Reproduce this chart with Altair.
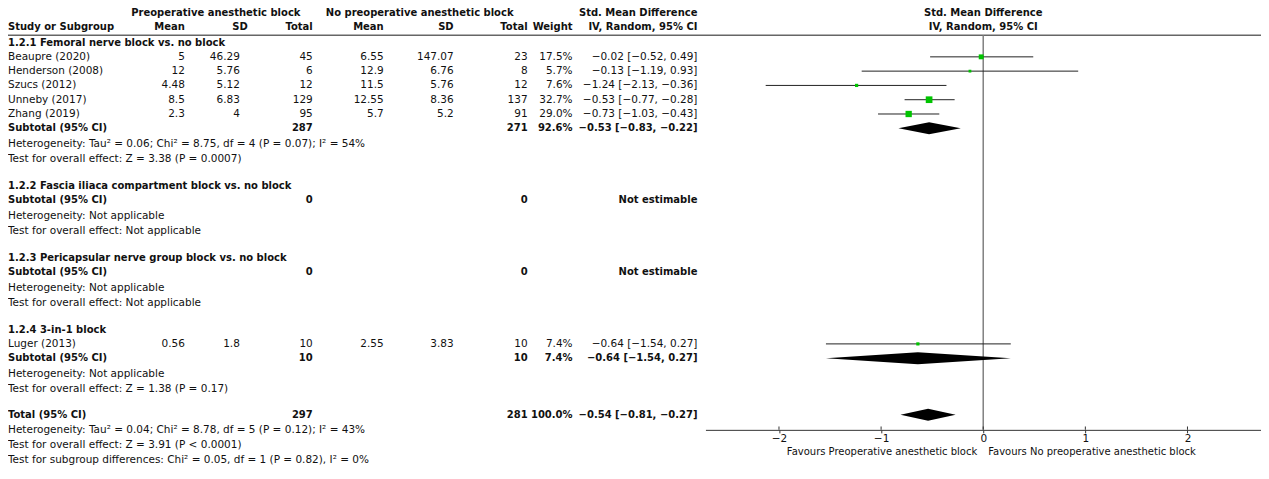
import pandas as pd
import altair as alt

# ---- values ----
study = ["Beaupre (2020)", "Henderson (2008)", "Szucs (2012)", "Unneby (2017)", "Zhang (2019)", "Luger (2013)"]
study_group = ["1.2.1", "1.2.1", "1.2.1", "1.2.1", "1.2.1", "1.2.4"]
exp_mean = [5, 12, 4.48, 8.5, 2.3, 0.56]
exp_sd = [46.29, 5.76, 5.12, 6.83, 4, 1.8]
exp_n = [45, 6, 12, 129, 95, 10]
ctl_mean = [6.55, 12.9, 11.5, 12.55, 5.7, 2.55]
ctl_sd = [147.07, 6.76, 5.76, 8.36, 5.2, 3.83]
ctl_n = [23, 8, 12, 137, 91, 10]
weight = [17.5, 5.7, 7.6, 32.7, 29.0, 7.4]
smd = [-0.02, -0.13, -1.24, -0.53, -0.73, -0.64]
ci_lo = [-0.52, -1.19, -2.13, -0.77, -1.03, -1.54]
ci_hi = [0.49, 0.93, -0.36, -0.28, -0.43, 0.27]

group_id = ["1.2.1", "1.2.2", "1.2.3", "1.2.4"]
group_title = [
    "1.2.1 Femoral nerve block vs. no block",
    "1.2.2 Fascia iliaca compartment block vs. no block",
    "1.2.3 Pericapsular nerve group block vs. no block",
    "1.2.4 3-in-1 block",
]
sub_exp_n = [287, 0, 0, 10]
sub_ctl_n = [271, 0, 0, 10]
sub_weight = [92.6, None, None, 7.4]
sub_smd = [-0.53, None, None, -0.64]
sub_lo = [-0.83, None, None, -1.54]
sub_hi = [-0.22, None, None, 0.27]
sub_het = [
    "Heterogeneity: Tau² = 0.06; Chi² = 8.75, df = 4 (P = 0.07); I² = 54%",
    "Heterogeneity: Not applicable",
    "Heterogeneity: Not applicable",
    "Heterogeneity: Not applicable",
]
sub_effect = [
    "Test for overall effect: Z = 3.38 (P = 0.0007)",
    "Test for overall effect: Not applicable",
    "Test for overall effect: Not applicable",
    "Test for overall effect: Z = 1.38 (P = 0.17)",
]

total_exp_n = 297
total_ctl_n = 281
total_weight = 100.0
total_smd = -0.54
total_lo = -0.81
total_hi = -0.27
total_notes = [
    "Heterogeneity: Tau² = 0.04; Chi² = 8.78, df = 5 (P = 0.12); I² = 43%",
    "Test for overall effect: Z = 3.91 (P < 0.0001)",
    "Test for subgroup differences: Chi² = 0.05, df = 1 (P = 0.82), I² = 0%",
]
axis_ticks = [-2, -1, 0, 1, 2]
favours_left = "Favours Preoperative anesthetic block"
favours_right = "Favours No preoperative anesthetic block"

# ---- layout ----
FONT = "DejaVu Sans"
FS = 10.5       # regular table text
FS_BOLD = 10    # bold table text
TXT = "#111111"
W = 1254
H = 422
U_RULE = -0.52
U_AXIS = 27.1
DIAMOND_HALF = 0.42
Y_SCALE = alt.Scale(domain=[-2, 28], range=[5.8, 434.8])
X_SCALE = alt.Scale(domain=[-2.72, 2.72], range=[698, 1254], nice=False, zero=False)
X_AXIS = alt.Axis(values=axis_ticks, title=None, grid=False, tickSize=3, labelPadding=1,
                  labelFont=FONT, labelFontSize=10.5, labelColor=TXT,
                  domainColor="#333333", tickColor="#333333", format="d")

COLS = {
    "label": (0, "left"), "e_mean": (177, "right"), "e_sd": (232, "right"),
    "e_n": (305, "right"), "c_mean": (376, "right"), "c_sd": (446, "right"),
    "c_n": (520, "right"), "weight": (565, "right"), "ci": (690, "right"),
    "h_exp": (208, "center"), "h_ctl": (412, "center"), "h_e_sd": (240, "right"),
}


def num(v):
    return f"{v:g}"


def smd_text(e, lo, hi):
    return f"{e:.2f} [{lo:.2f}, {hi:.2f}]".replace("-", "\u2212")


cells = []
points = []
diamonds = []


def add(u, col, text, bold=False):
    cells.append({"u": u, "col": col, "text": text, "bold": bold})


def add_diamond(u, name, est, lo, hi):
    diamonds.append({"d": name, "x": lo, "y": u, "y2": u})
    diamonds.append({"d": name, "x": est, "y": u - DIAMOND_HALF, "y2": u + DIAMOND_HALF})
    diamonds.append({"d": name, "x": hi, "y": u, "y2": u})


# header rows
add(-2.06, "h_exp", "Preoperative anesthetic block", True)
add(-2.06, "h_ctl", "No preoperative anesthetic block", True)
add(-2.06, "ci", "Std. Mean Difference", True)
add(-1.08, "label", "Study or Subgroup", True)
for col, t in [("e_mean", "Mean"), ("h_e_sd", "SD"), ("e_n", "Total"), ("c_mean", "Mean"),
               ("c_sd", "SD"), ("c_n", "Total"), ("weight", "Weight"), ("ci", "IV, Random, 95% CI")]:
    add(-1.08, col, t, True)

u = 0.0
for g, gid in enumerate(group_id):
    add(u, "label", group_title[g], True)
    for i, s in enumerate(study_group):
        if s != gid:
            continue
        u += 1
        add(u, "label", study[i])
        add(u, "e_mean", num(exp_mean[i]))
        add(u, "e_sd", num(exp_sd[i]))
        add(u, "e_n", num(exp_n[i]))
        add(u, "c_mean", num(ctl_mean[i]))
        add(u, "c_sd", num(ctl_sd[i]))
        add(u, "c_n", num(ctl_n[i]))
        add(u, "weight", f"{weight[i]:.1f}%")
        add(u, "ci", smd_text(smd[i], ci_lo[i], ci_hi[i]))
        points.append({"u": u, "smd": smd[i], "lo": ci_lo[i], "hi": ci_hi[i], "w": weight[i]})
    u += 1
    add(u, "label", "Subtotal (95% CI)", True)
    add(u, "e_n", num(sub_exp_n[g]), True)
    add(u, "c_n", num(sub_ctl_n[g]), True)
    if sub_smd[g] is None:
        add(u, "ci", "Not estimable", True)
    else:
        add(u, "weight", f"{sub_weight[g]:.1f}%", True)
        add(u, "ci", smd_text(sub_smd[g], sub_lo[g], sub_hi[g]), True)
        add_diamond(u, gid, sub_smd[g], sub_lo[g], sub_hi[g])
    add(u + 1.12, "label", sub_het[g])
    add(u + 2.16, "label", sub_effect[g])
    last_sub = u
    u += 4.03

u = last_sub + 3.95
add(u, "label", "Total (95% CI)", True)
add(u, "e_n", num(total_exp_n), True)
add(u, "c_n", num(total_ctl_n), True)
add(u, "weight", f"{total_weight:.1f}%", True)
add(u, "ci", smd_text(total_smd, total_lo, total_hi), True)
add_diamond(u, "total", total_smd, total_lo, total_hi)
for k, note in enumerate(total_notes):
    add(u + 1.1 + 1.05 * k, "label", note)

cells = pd.DataFrame(cells)
points = pd.DataFrame(points)
diamonds = pd.DataFrame(diamonds)

layers = []

# table text
for col, (xpos, align) in COLS.items():
    for bold in (False, True):
        sub = cells[(cells["col"] == col) & (cells["bold"] == bold)]
        if sub.empty:
            continue
        layers.append(
            alt.Chart(sub).mark_text(
                align=align, baseline="middle", font=FONT,
                fontSize=FS_BOLD if bold else FS,
                fontWeight="bold" if bold else "normal", color=TXT
            ).encode(
                x=alt.value(xpos),
                y=alt.Y("u:Q", scale=Y_SCALE, axis=None),
                text="text:N",
            )
        )

# header rule
layers.append(
    alt.Chart(pd.DataFrame({"u": [U_RULE]})).mark_rule(color="#666666", strokeWidth=1.5).encode(
        x=alt.value(0), x2=alt.value(W), y=alt.Y("u:Q", scale=Y_SCALE, axis=None)
    )
)

# forest header
layers.append(
    alt.Chart(pd.DataFrame({"x": [0, 0], "u": [-2.06, -1.08],
                            "text": ["Std. Mean Difference", "IV, Random, 95% CI"]}))
    .mark_text(align="center", baseline="middle", font=FONT, fontSize=FS_BOLD, fontWeight="bold", color=TXT)
    .encode(x=alt.X("x:Q", scale=X_SCALE, axis=X_AXIS),
            y=alt.Y("u:Q", scale=Y_SCALE, axis=None), text="text:N")
)

# line of no effect
layers.append(
    alt.Chart(pd.DataFrame({"x": [0], "u": [U_RULE], "u2": [U_AXIS]})).mark_rule(
        color="#808080", strokeWidth=1.5
    ).encode(
        x=alt.X("x:Q", scale=X_SCALE, axis=X_AXIS),
        y=alt.Y("u:Q", scale=Y_SCALE, axis=None), y2="u2:Q",
    )
)

# confidence intervals
layers.append(
    alt.Chart(points).mark_rule(color="#222222", strokeWidth=1).encode(
        x=alt.X("lo:Q", scale=X_SCALE, axis=X_AXIS), x2="hi:Q",
        y=alt.Y("u:Q", scale=Y_SCALE, axis=None),
    )
)

# study squares, area by weight
layers.append(
    alt.Chart(points).mark_square(color="#00c400", opacity=1, filled=True).encode(
        x=alt.X("smd:Q", scale=X_SCALE, axis=X_AXIS),
        y=alt.Y("u:Q", scale=Y_SCALE, axis=None),
        size=alt.Size("w:Q", scale=alt.Scale(domain=[0, 100], range=[0, 137]), legend=None),
    )
)

# pooled diamonds
layers.append(
    alt.Chart(diamonds).mark_area(color="black", orient="vertical", opacity=1).encode(
        x=alt.X("x:Q", scale=X_SCALE, axis=X_AXIS),
        y=alt.Y("y:Q", scale=Y_SCALE, axis=None), y2="y2:Q",
        detail="d:N",
    )
)

# upward half of the axis ticks
layers.append(
    alt.Chart(pd.DataFrame({"x": axis_ticks, "u": U_AXIS, "u2": U_AXIS - 0.23})).mark_rule(
        color="#333333", strokeWidth=1
    ).encode(
        x=alt.X("x:Q", scale=X_SCALE, axis=X_AXIS),
        y=alt.Y("u:Q", scale=Y_SCALE, axis=None), y2="u2:Q",
    )
)

# favours labels
fav = pd.DataFrame({"x": [0], "u": [28.64]})
layers.append(
    alt.Chart(fav).mark_text(align="right", dx=-6, baseline="middle", font=FONT, fontSize=10,
                             color=TXT, text=favours_left).encode(
        x=alt.X("x:Q", scale=X_SCALE, axis=X_AXIS), y=alt.Y("u:Q", scale=Y_SCALE, axis=None)
    )
)
layers.append(
    alt.Chart(fav).mark_text(align="left", dx=5, baseline="middle", font=FONT, fontSize=10,
                             color=TXT, text=favours_right).encode(
        x=alt.X("x:Q", scale=X_SCALE, axis=X_AXIS), y=alt.Y("u:Q", scale=Y_SCALE, axis=None)
    )
)

chart = alt.layer(*layers).properties(
    width=W,
    height=H,
    autosize=alt.AutoSizeParams(type="none"),
    padding={"left": 0, "top": 0, "right": 0, "bottom": 40},
).configure_view(strokeWidth=0)

chart.save("out.html", embed_options={"renderer": "svg", "actions": False})
